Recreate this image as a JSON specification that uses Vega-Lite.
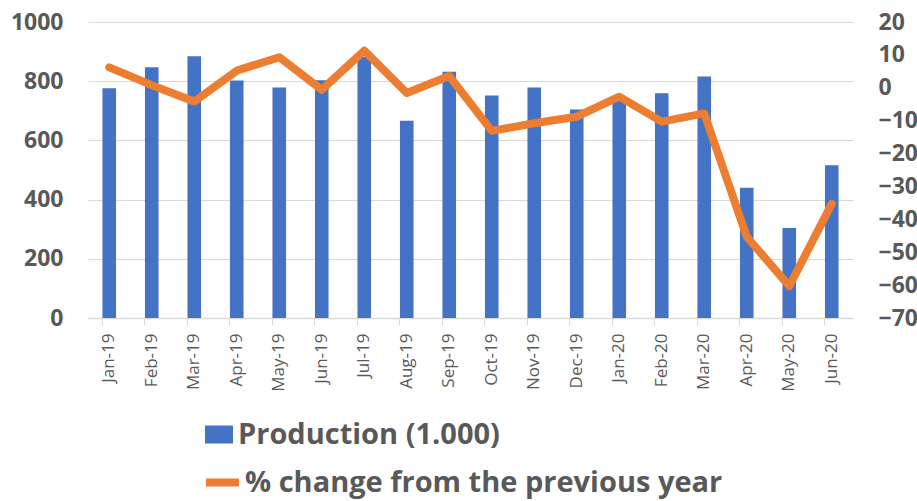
{
  "$schema": "https://vega.github.io/schema/vega-lite/v6.json",
  "width": 765,
  "height": 296,
  "autosize": {"type": "none"},
  "padding": {"left": 88, "top": 22, "right": 64, "bottom": 183},
  "background": "white",
  "data": {
    "values": [
      {"month": "Jan-19", "production": 776, "change": 6.2},
      {"month": "Feb-19", "production": 847, "change": 0.8},
      {"month": "Mar-19", "production": 884, "change": -4.2},
      {"month": "Apr-19", "production": 802, "change": 5.2},
      {"month": "May-19", "production": 779, "change": 9.3},
      {"month": "Jun-19", "production": 803, "change": -0.6},
      {"month": "Jul-19", "production": 882, "change": 11.3},
      {"month": "Aug-19", "production": 666, "change": -1.6},
      {"month": "Sep-19", "production": 832, "change": 3.6},
      {"month": "Oct-19", "production": 752, "change": -13.1},
      {"month": "Nov-19", "production": 779, "change": -10.8},
      {"month": "Dec-19", "production": 704, "change": -8.8},
      {"month": "Jan-20", "production": 736, "change": -2.7},
      {"month": "Feb-20", "production": 759, "change": -10.3},
      {"month": "Mar-20", "production": 816, "change": -7.8},
      {"month": "Apr-20", "production": 440, "change": -45.3},
      {"month": "May-20", "production": 304, "change": -60.3},
      {"month": "Jun-20", "production": 516, "change": -35.3}
    ]
  },
  "config": {
    "view": {"stroke": null},
    "axis": {
      "labelFont": "Open Sans",
      "labelColor": "#595959",
      "gridColor": "#d9d9d9",
      "domainColor": "#d9d9d9",
      "tickColor": "#d9d9d9",
      "title": null
    },
    "legend": {
      "orient": "none",
      "title": null,
      "labelFont": "Open Sans",
      "labelFontWeight": "bold",
      "labelFontSize": 29,
      "labelColor": "#595959",
      "labelLimit": 800,
      "padding": 0
    }
  },
  "encoding": {
    "x": {
      "field": "month",
      "type": "ordinal",
      "sort": null,
      "scale": {"paddingInner": 0.68, "paddingOuter": 0.34},
      "axis": {
        "labelAngle": -90,
        "labelFontSize": 17,
        "labelPadding": 8,
        "tickSize": 7,
        "bandPosition": 0,
        "grid": false,
        "domainWidth": 1.5
      }
    }
  },
  "layer": [
    {
      "mark": {"type": "bar", "color": "#4472C4"},
      "encoding": {
        "y": {
          "field": "production",
          "type": "quantitative",
          "scale": {"domain": [0, 1000]},
          "axis": {
            "orient": "left",
            "values": [0, 200, 400, 600, 800, 1000],
            "format": "d",
            "labelFontSize": 23,
            "labelFontWeight": "bold",
            "labelPadding": 25,
            "tickSize": 0,
            "ticks": false,
            "domain": false,
            "grid": true
          }
        },
        "color": {
          "datum": "Production (1.000)",
          "type": "nominal",
          "scale": {"domain": ["Production (1.000)"], "range": ["#4472C4"]},
          "legend": {
            "legendX": 113.5,
            "legendY": 395,
            "symbolSize": 1225,
            "symbolType": "M-0.8,-0.514H0.8V0.514H-0.8Z",
            "symbolStrokeWidth": 0,
            "symbolOpacity": 1,
            "labelOffset": 1.5
          }
        }
      }
    },
    {
      "mark": {"type": "line", "strokeWidth": 8, "strokeCap": "round", "strokeJoin": "round"},
      "encoding": {
        "y": {
          "field": "change",
          "type": "quantitative",
          "scale": {"domain": [-70, 20]},
          "axis": {
            "orient": "right",
            "values": [-70, -60, -50, -40, -30, -20, -10, 0, 10, 20],
            "labelFontSize": 23,
            "labelFontWeight": "bold",
            "labelPadding": 25,
            "tickSize": 0,
            "ticks": false,
            "domain": false,
            "grid": false
          }
        },
        "stroke": {
          "datum": "% change from the previous year",
          "type": "nominal",
          "scale": {"domain": ["% change from the previous year"], "range": ["#ED7D31"]},
          "legend": {
            "legendX": 114,
            "legendY": 440,
            "symbolSize": 1089,
            "symbolType": "stroke",
            "symbolStrokeWidth": 8,
            "symbolOpacity": 1,
            "labelOffset": 2
          }
        }
      }
    }
  ],
  "resolve": {"scale": {"y": "independent"}}
}
